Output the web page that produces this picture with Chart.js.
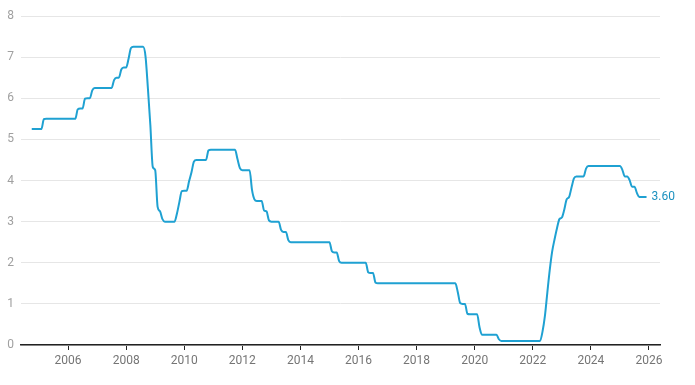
<!DOCTYPE html>
<html>
<head>
<meta charset="utf-8">
<script src="https://cdn.jsdelivr.net/npm/chart.js@4"></script>
<style>
  html, body { margin: 0; padding: 0; background: #fff; }
  #wrap { width: 695px; height: 385px; }
</style>
</head>
<body>
<div id="wrap"><canvas id="linechart" width="695" height="385"></canvas></div>
<script>
// monthly cash rate (%), first value is October 2004
const firstYear = 2004;
const firstMonth = 10;
const cashRate = [
  5.25, 5.25, 5.25,                                                  // 2004 Oct-Dec
  5.25, 5.25, 5.49, 5.5, 5.5, 5.5, 5.5, 5.5, 5.5, 5.5, 5.5, 5.5,     // 2005
  5.5, 5.5, 5.5, 5.5, 5.73, 5.75, 5.75, 5.99, 6.0, 6.0, 6.19, 6.25,  // 2006
  6.25, 6.25, 6.25, 6.25, 6.25, 6.25, 6.25, 6.44, 6.5, 6.5, 6.7, 6.75, // 2007
  6.75, 6.96, 7.22, 7.25, 7.25, 7.25, 7.25, 7.25, 7.02, 6.23, 5.35, 4.33, // 2008
  4.25, 3.36, 3.25, 3.06, 3.0, 3.0, 3.0, 3.0, 3.0, 3.2, 3.48, 3.74,  // 2009
  3.75, 3.75, 3.98, 4.2, 4.46, 4.5, 4.5, 4.5, 4.5, 4.5, 4.73, 4.75,  // 2010
  4.75, 4.75, 4.75, 4.75, 4.75, 4.75, 4.75, 4.75, 4.75, 4.75, 4.52, 4.3, // 2011
  4.25, 4.25, 4.25, 4.25, 3.77, 3.54, 3.5, 3.5, 3.5, 3.27, 3.25, 3.03, // 2012
  3.0, 3.0, 3.0, 3.0, 2.8, 2.75, 2.75, 2.55, 2.5, 2.5, 2.5, 2.5,     // 2013
  2.5, 2.5, 2.5, 2.5, 2.5, 2.5, 2.5, 2.5, 2.5, 2.5, 2.5, 2.5,        // 2014
  2.5, 2.28, 2.25, 2.25, 2.04, 2.0, 2.0, 2.0, 2.0, 2.0, 2.0, 2.0,    // 2015
  2.0, 2.0, 2.0, 2.0, 1.77, 1.75, 1.75, 1.52, 1.5, 1.5, 1.5, 1.5,    // 2016
  1.5, 1.5, 1.5, 1.5, 1.5, 1.5, 1.5, 1.5, 1.5, 1.5, 1.5, 1.5,        // 2017
  1.5, 1.5, 1.5, 1.5, 1.5, 1.5, 1.5, 1.5, 1.5, 1.5, 1.5, 1.5,        // 2018
  1.5, 1.5, 1.5, 1.5, 1.5, 1.29, 1.02, 1.0, 1.0, 0.76, 0.75, 0.75,   // 2019
  0.75, 0.75, 0.43, 0.25, 0.25, 0.25, 0.25, 0.25, 0.25, 0.25, 0.14, 0.1, // 2020
  0.1, 0.1, 0.1, 0.1, 0.1, 0.1, 0.1, 0.1, 0.1, 0.1, 0.1, 0.1,        // 2021
  0.1, 0.1, 0.1, 0.1, 0.32, 0.7, 1.27, 1.82, 2.27, 2.57, 2.84, 3.06, // 2022
  3.1, 3.29, 3.54, 3.6, 3.83, 4.05, 4.1, 4.1, 4.1, 4.1, 4.29, 4.35,  // 2023
  4.35, 4.35, 4.35, 4.35, 4.35, 4.35, 4.35, 4.35, 4.35, 4.35, 4.35, 4.35, // 2024
  4.35, 4.26, 4.1, 4.1, 4.01, 3.85, 3.85, 3.7, 3.6, 3.6, 3.6, 3.6    // 2025
];
const yearTicks = [2006, 2008, 2010, 2012, 2014, 2016, 2018, 2020, 2022, 2024, 2026];
const lastLabel = '3.60';

const points = cashRate.map(function(v, i) {
    return { x: firstYear + (firstMonth - 1 + i) / 12, y: v };
});

// writes the latest value next to the end of the line
const endLabel = {
    id: 'endLabel',
    afterDatasetsDraw: function(chart) {
        const meta = chart.getDatasetMeta(0);
        const last = meta.data[meta.data.length - 1];
        const c = chart.ctx;
        c.save();
        c.font = '12px Roboto';
        c.fillStyle = '#1b91bf';
        c.textAlign = 'left';
        c.textBaseline = 'middle';
        c.fillText(lastLabel, last.x + 5, last.y);
        c.restore();
    }
};

const ctx = document.getElementById('linechart');

new Chart(ctx, {
    type: 'line',
    data: {
        datasets: [{
            label: 'Cash rate',
            data: points,
            borderColor: '#1fa1d2',
            borderWidth: 2,
            pointRadius: 0,
            fill: false,
            cubicInterpolationMode: 'monotone'
        }]
    },
    options: {
        responsive: false,
        animation: false,
        layout: { padding: { left: 0, right: 35, top: 16, bottom: 0 } },
        plugins: {
            legend: { display: false },
            tooltip: { enabled: false }
        },
        scales: {
            x: {
                type: 'linear',
                min: 2004.38,
                max: 2026.38,
                afterBuildTicks: function(scale) {
                    scale.ticks = yearTicks.map(function(v) { return { value: v }; });
                },
                afterFit: function(scale) { scale.height = 40; },
                grid: {
                    drawOnChartArea: false,
                    drawTicks: true,
                    tickLength: 5,
                    color: '#222'
                },
                border: { display: true, color: '#222', width: 1.5 },
                ticks: {
                    padding: 4,
                    maxRotation: 0,
                    autoSkip: false,
                    color: '#757575',
                    font: { family: 'Roboto', size: 12 },
                    callback: function(v) { return String(v); }
                }
            },
            y: {
                min: 0,
                max: 8,
                afterFit: function(scale) { scale.width = 21; },
                grid: { color: '#e6e6e6', drawTicks: false },
                border: { display: false },
                ticks: {
                    stepSize: 1,
                    padding: 7,
                    color: '#a0a0a0',
                    font: { family: 'Roboto', size: 12 }
                }
            }
        }
    },
    plugins: [endLabel]
});
</script>
</body>
</html>
